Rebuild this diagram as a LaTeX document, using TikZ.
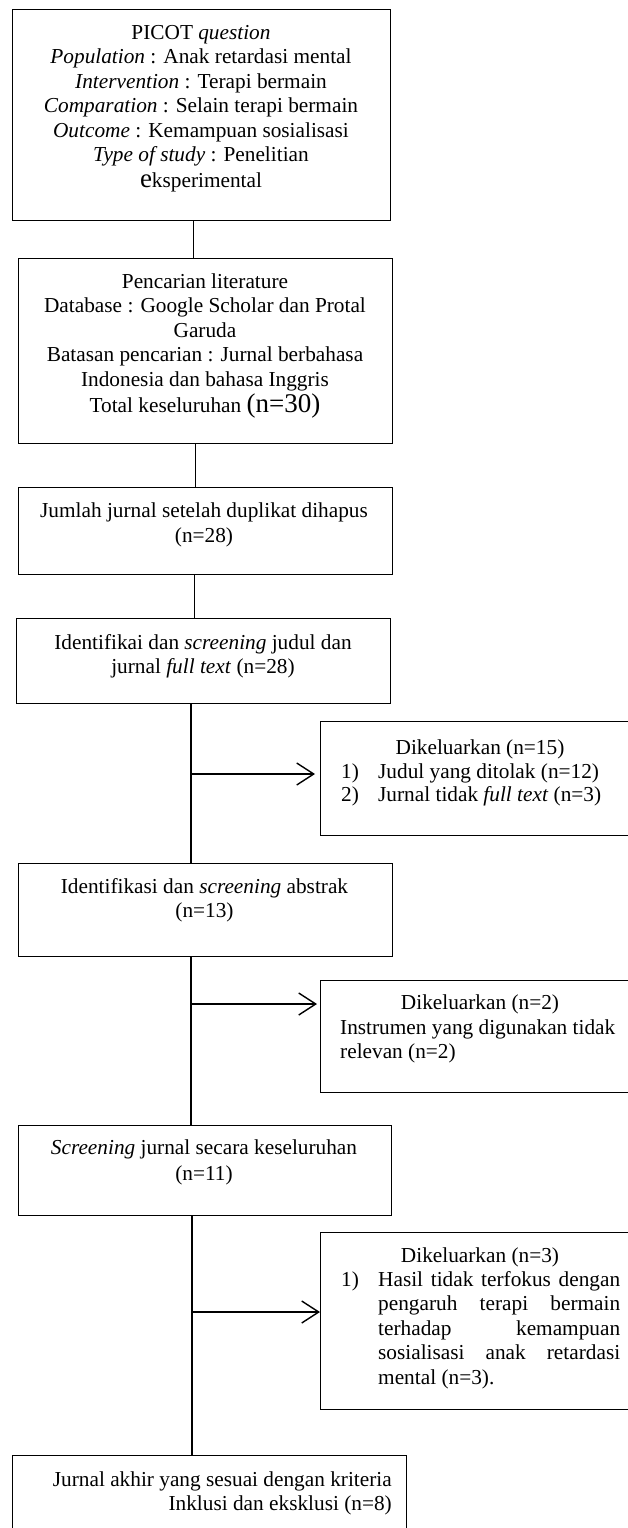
\documentclass[tikz,border=0pt]{standalone}
\usepackage{fontspec}
\setmainfont{Liberation Serif}
\usetikzlibrary{arrows.meta}
\begin{document}
\begin{tikzpicture}[x=1pt,y=-1pt,
  box/.style={draw, line width=1.4pt, inner sep=0pt, anchor=north west},
  txt/.style={inner sep=0pt, font=\fontsize{21.3}{24.5}\selectfont},
  ctxt/.style={txt, align=center, anchor=north},
  link/.style={line width=1.4pt},
  arr/.style={line width=1.4pt, -{Straight Barb[length=17pt,width=22pt]}}]
\useasboundingbox (0,0) rectangle (628,1528);
\clip (0,0) rectangle (628,1528);
% boxes
\node[box, minimum width=378pt, minimum height=211pt] (b1) at (12,9) {};
\node[box, minimum width=374pt, minimum height=185pt] (b2) at (18,258) {};
\node[box, minimum width=374pt, minimum height=87pt] (b3) at (18,487) {};
\node[box, minimum width=374pt, minimum height=85pt] (b4) at (16,618) {};
\node[box, minimum width=330pt, minimum height=114pt] (d1) at (320,721) {};
\node[box, minimum width=374pt, minimum height=93pt] (b5) at (18,863) {};
\node[box, minimum width=330pt, minimum height=112pt] (d2) at (320,980) {};
\node[box, minimum width=373pt, minimum height=90pt] (b6) at (18,1125) {};
\node[box, minimum width=330pt, minimum height=177pt] (d3) at (320,1232) {};
\node[box, minimum width=394pt, minimum height=90pt] (b7) at (12,1455) {};
% texts
\node[ctxt] (t1) at (201,24) {\rule{0pt}{15pt}PICOT \textit{question}\\
\textit{Population} : Anak retardasi mental\\
\textit{Intervention} : Terapi bermain\\
\textit{Comparation} : Selain terapi bermain\\
\textit{Outcome} : Kemampuan sosialisasi\\
\textit{Type of study} : Penelitian\\[1.5pt]
{\fontsize{27}{30}\selectfont e}ksperimental};
\node[ctxt] (t2) at (205,273) {\rule{0pt}{15pt}Pencarian literature\\
Database : Google Scholar dan Protal\\
Garuda\\
Batasan pencarian : Jurnal berbahasa\\
Indonesia dan bahasa Inggris\\[2pt]
Total keseluruhan {\fontsize{27}{30}\selectfont (n=30)}};
\node[ctxt] (t3) at (204,502) {\rule{0pt}{15pt}Jumlah jurnal setelah duplikat dihapus\\[1pt](n=28)};
\node[ctxt] (t4) at (203,634) {\rule{0pt}{15pt}Identifikai dan \textit{screening} judul dan\\jurnal \textit{full text} (n=28)};
\node[ctxt] (t5) at (204.5,878) {\rule{0pt}{15pt}Identifikasi dan \textit{screening} abstrak\\(n=13)};
\node[ctxt] (t6) at (204,1139) {\rule{0pt}{15pt}\textit{Screening} jurnal secara keseluruhan\\[2pt](n=11)};
\node[txt, align=right, anchor=north east] (t7) at (392,1471) {\rule{0pt}{15pt}Jurnal akhir yang sesuai dengan kriteria\\Inklusi dan eksklusi (n=8)};
% excluded 1
\node[txt, anchor=base] (h1) at (480,754) {Dikeluarkan (n=15)};
\node[txt, anchor=base west] (n1a) at (341,778) {1)};
\node[txt, anchor=base west] (e1a) at (378,778) {Judul yang ditolak (n=12)};
\node[txt, anchor=base west] (n1b) at (341,801) {2)};
\node[txt, anchor=base west] (e1b) at (378,801) {Jurnal tidak \textit{full text} (n=3)};
% excluded 2
\node[txt, anchor=base] (h2) at (480,1009) {Dikeluarkan (n=2)};
\node[txt, align=left, anchor=north west] (e2) at (340,1019) {\rule{0pt}{15pt}Instrumen yang digunakan tidak\\relevan (n=2)};
% excluded 3
\node[txt, anchor=base] (h3) at (480,1262) {Dikeluarkan (n=3)};
\node[txt, anchor=base west] (n3a) at (341,1286) {1)};
\node[txt, text width=242pt, align=justify, anchor=north west] (e3) at (378,1271) {\noindent\rule{0pt}{15pt}Hasil tidak terfokus dengan\linebreak pengaruh terapi bermain\linebreak terhadap kemampuan\linebreak sosialisasi anak retardasi\linebreak mental (n=3).};
% connectors
\draw[link] ([xshift=-8pt]b1.south) -- ([xshift=-8pt]b1.south |- b2.north);
\draw[link] ([xshift=-10pt]b2.south) -- ([xshift=-10pt]b2.south |- b3.north);
\draw[link] ([xshift=-11pt]b3.south) -- ([xshift=-11pt]b3.south |- b4.north);
\coordinate (j1) at (191,774);
\coordinate (j2) at (191,1004);
\coordinate (j3) at (192,1312);
\draw[link] (j1 |- b4.south) -- (j1 |- b5.north);
\draw[link] (j2 |- b5.south) -- (j2 |- b6.north);
\draw[link] (j3 |- b6.south) -- (j3 |- b7.north);
\draw[arr, shorten >=5pt] (j1) -- (d1.west |- j1);
\draw[arr, shorten >=3pt] (j2) -- (d2.west |- j2);
\draw[arr] (j3) -- (d3.west |- j3);
\end{tikzpicture}
\end{document}
